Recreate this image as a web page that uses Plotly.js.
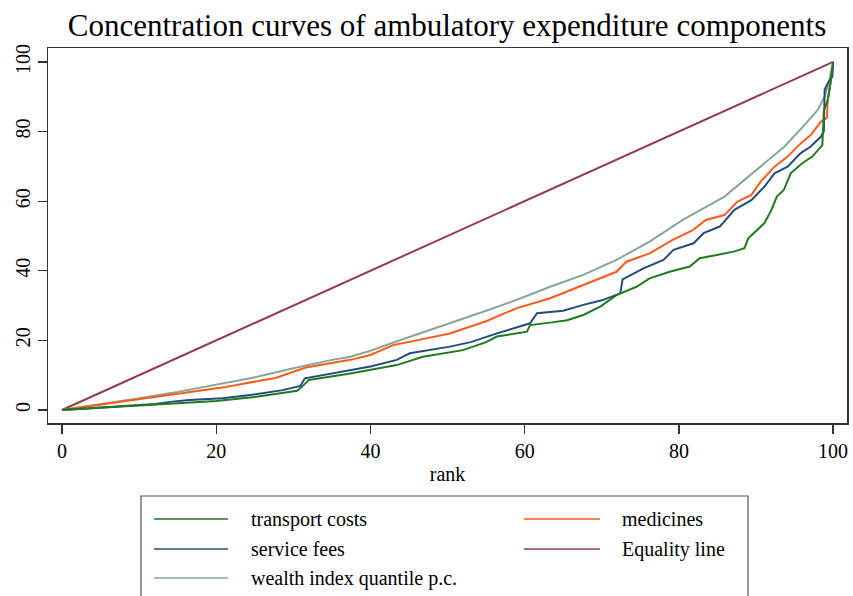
<!DOCTYPE html>
<html>
<head>
<meta charset="utf-8">
<script src="https://cdn.plot.ly/plotly-3.0.1.min.js"></script>
<style>html,body{margin:0;padding:0;background:#fff;}#chart{width:853px;height:596px;}</style>
</head>
<body>
<div id="chart"></div>
<script>
// ---- data ----
const chartTitle = 'Concentration curves of ambulatory expenditure components';
const xTitle = 'rank';
const tickValues = [0, 20, 40, 60, 80, 100];

const seriesNames = ['transport costs', 'medicines', 'service fees', 'Equality line', 'wealth index quantile p.c.'];
const seriesColors = ['#1f7a1f', '#ff5a1a', '#254b7c', '#923c48', '#87a696'];

const rankTransport = [0, 5, 10, 15, 20, 25, 28.6, 30.5, 31.5, 32, 37.4, 40, 43.4, 46.8, 50, 52, 55, 56.4, 60.3, 60.7, 63.3, 65.5, 67.6, 69.8, 71.9, 74.5, 76.2, 78.8, 81.4, 82.7, 84.9, 87.1, 88.5, 89, 91.1, 92, 92.7, 93.6, 94.5, 96, 97.3, 98.6, 98.8, 99.3, 99.6, 100];
const transportCosts = [0, 0.6, 1.2, 1.8, 2.6, 3.7, 4.8, 5.5, 7.5, 8.6, 10.5, 11.5, 12.9, 15.3, 16.5, 17.2, 19.5, 21.1, 22.5, 24.4, 25.1, 25.8, 27.3, 29.7, 33.0, 35.4, 37.8, 39.7, 41.2, 43.6, 44.5, 45.5, 46.5, 49.3, 53.7, 57.5, 61.3, 63.2, 68, 70.9, 72.8, 76.1, 86, 89, 93, 100];

const rankMedicines = [0, 5, 10, 15, 21, 25.6, 27.7, 31.6, 37.4, 40, 43, 46, 50.3, 55, 58.9, 63.3, 67.6, 71.9, 73.2, 76.2, 79.2, 81.8, 83.5, 85.9, 87.6, 89.4, 90.6, 92.4, 94.1, 95.8, 97.1, 98.4, 99.2, 99.3, 99.6, 100];
const medicines = [0, 1.5, 3.0, 4.6, 6.5, 8.4, 9.2, 12.2, 14.4, 15.8, 18.7, 20, 22, 25.5, 29.2, 32.1, 35.9, 39.7, 42.6, 45, 48.9, 51.7, 54.6, 56, 59.9, 61.8, 65.6, 69.9, 72.8, 76.6, 79, 82.8, 84, 89, 93, 100];

const rankService = [0, 3.5, 7.8, 12.1, 14.3, 16.5, 20.8, 24.4, 28.6, 30.9, 31.5, 37.4, 40, 43.4, 45.1, 50.3, 53, 56.4, 60.7, 61.6, 63.3, 65, 67.6, 70, 72.4, 72.7, 75.4, 78, 79.3, 81.9, 83.2, 85.3, 87.2, 89.4, 91.1, 92.4, 94.1, 95.8, 97.1, 98.4, 98.8, 98.9, 99.3, 99.9, 100];
const serviceFees = [0, 0.5, 1.1, 1.7, 2.4, 2.9, 3.4, 4.3, 5.7, 6.9, 9.1, 11.5, 12.5, 14.4, 16.3, 18.2, 19.5, 22, 24.9, 27.8, 28.2, 28.5, 30.2, 31.5, 33.5, 37.5, 40.7, 43.1, 46, 47.9, 50.8, 52.7, 57.5, 60.3, 64.2, 68, 69.9, 73.8, 75.7, 78.5, 80, 92, 93.9, 95.8, 100];

const rankEquality = [0, 100];
const equalityLine = [0, 100];

const rankWealth = [0, 5, 10, 15, 20, 24.4, 30, 35, 37.4, 40, 43.9, 50.3, 55, 58.9, 63.3, 67.6, 71.9, 76.2, 80.5, 85.9, 88.5, 91.1, 93.7, 96.3, 98, 98.9, 99.3, 100];
const wealthIndex = [0, 1.6, 3.4, 5.2, 7.2, 9.1, 12, 14.4, 15.3, 17, 20.1, 24.9, 28.5, 31.6, 35.4, 38.8, 43.1, 48.4, 54.6, 61.3, 66.1, 70.9, 75.7, 81.9, 86.2, 90, 92.9, 100];

// ---- traces ----
const xs = [rankTransport, rankMedicines, rankService, rankEquality, rankWealth];
const ys = [transportCosts, medicines, serviceFees, equalityLine, wealthIndex];
// drawing order: equality, wealth, medicines, service, transport (transport on top)
const drawOrder = [3, 4, 1, 2, 0];
const traces = drawOrder.map(i => ({
  type: 'scatter', mode: 'lines', name: seriesNames[i],
  x: xs[i], y: ys[i],
  line: {color: seriesColors[i], width: 2},
  showlegend: false, hoverinfo: 'skip'
}));

// ---- legend drawn in a boxed two-column layout ----
const serif = 'Liberation Serif, Times New Roman, serif';
const L = 48, PW = 799, T = 48, PH = 375;
const px2x = p => (p - L) / PW;
const py2y = p => (T + PH - p) / PH;
const legendOrder = [0, 1, 2, 3, 4]; // row-major, two columns
const colKey = [[154, 228], [524, 600]];
const colText = [249, 620];
const rowY = [519, 549, 578];
const shapes = [{
  type: 'rect', xref: 'paper', yref: 'paper',
  x0: px2x(141), x1: px2x(748), y0: py2y(620), y1: py2y(496),
  line: {color: '#555', width: 1.2}, fillcolor: 'rgba(0,0,0,0)'
}];
const annotations = [];
legendOrder.forEach((si, k) => {
  const r = Math.floor(k / 2), c = k % 2;
  shapes.push({type: 'line', xref: 'paper', yref: 'paper',
    x0: px2x(colKey[c][0]), x1: px2x(colKey[c][1]), y0: py2y(rowY[r]), y1: py2y(rowY[r]),
    line: {color: seriesColors[si], width: 1.6}});
  annotations.push({xref: 'paper', yref: 'paper', x: px2x(colText[c]), y: py2y(rowY[r]),
    xanchor: 'left', yanchor: 'middle', text: seriesNames[si], showarrow: false,
    font: {family: serif, size: 20, color: '#000'}});
});

const axisCommon = {
  showgrid: false, zeroline: false, showline: true, mirror: true,
  linecolor: '#333', linewidth: 1.5, ticks: 'outside', ticklen: 9, tickwidth: 1.3,
  tickcolor: '#333', tickfont: {family: serif, size: 20, color: '#000'},
  tickmode: 'array', tickvals: tickValues, ticktext: tickValues.map(String)
};

const layout = {
  width: 853, height: 596,
  margin: {l: L, r: 853 - L - PW, t: T, b: 596 - T - PH},
  paper_bgcolor: '#fff', plot_bgcolor: '#fff',
  title: {text: chartTitle, font: {family: serif, size: 31, color: '#000'},
    x: 447 / 853, xanchor: 'center', y: 1 - 25 / 596, yanchor: 'middle'},
  xaxis: Object.assign({}, axisCommon, {range: [-1.82, 101.8],
    title: {text: xTitle, font: {family: serif, size: 20, color: '#000'}, standoff: 6}}),
  yaxis: Object.assign({}, axisCommon, {range: [-3.74, 104], tickangle: -90}),
  shapes: shapes, annotations: annotations, showlegend: false
};

Plotly.newPlot('chart', traces, layout, {displayModeBar: false, staticPlot: true});
</script>
</body>
</html>
